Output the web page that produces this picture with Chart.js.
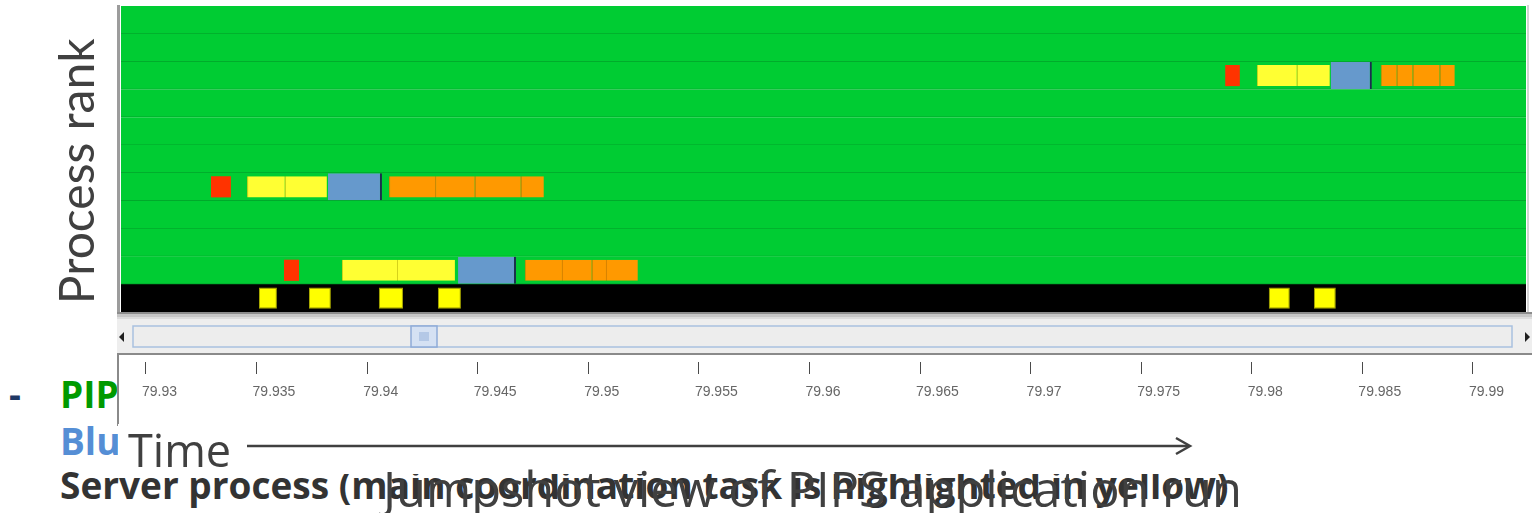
<!DOCTYPE html>
<html>
<head>
<meta charset="utf-8">
<title>Jumpshot view of PIPS application run</title>
<script src="https://cdn.jsdelivr.net/npm/chart.js@4/dist/chart.umd.min.js"></script>
<style>
    html, body { margin: 0; padding: 0; background: #fff; }
    body { width: 1532px; height: 513px; position: relative; overflow: hidden; font-family: "Open Sans", sans-serif; }
    .slide-line { position: absolute; white-space: nowrap; line-height: 1; font-weight: bold; }
    #chartBox { position: absolute; left: 0; top: 0; width: 1532px; height: 426px; z-index: 1; }
    #timeBox { position: absolute; left: 118px; top: 424px; width: 1132px; height: 50px; background: #fff; z-index: 2; }
    #timeLabel { position: absolute; left: 10px; top: 3px; font-size: 45px; line-height: 1; color: #404040; }
    #timeArrow { position: absolute; left: 0; top: 0; }
    #caption { position: absolute; left: 383px; top: 464px; font-size: 48.8px; line-height: 1; color: #404040; white-space: nowrap; z-index: 3; }
</style>
</head>
<body>

<!-- slide text that sits behind the jumpshot window -->
<div class="slide-line" style="left:9px; top:375px; font-size:37px; color:#1f3864;">-</div>
<div class="slide-line" style="left:60px; top:375px; font-size:37px; color:#009a00;">PIPS</div>
<div class="slide-line" style="left:60px; top:422px; font-size:37px; color:#558ed5;">Blue</div>
<div class="slide-line" style="left:60px; top:466px; font-size:37px; color:#333333;">Server process (main coordination task is highlighted in yellow)</div>

<div id="chartBox"><canvas id="trace"></canvas></div>

<div id="timeBox">
    <span id="timeLabel">Time</span>
    <svg id="timeArrow" width="1132" height="50">
        <line x1="129" y1="22" x2="1071" y2="22" stroke="#404040" stroke-width="2.5"/>
        <polyline points="1058,14 1072,22 1058,30" fill="none" stroke="#404040" stroke-width="2.5"/>
    </svg>
</div>

<div id="caption">Jumpshot view of PIPS application run</div>

<script>
// visible time window of the trace (seconds)
var viewStart = 79.92887;
var viewEnd = 79.99240;

// timeline rows, top to bottom; the last one is the server row
var rowLabels = ['0', '1', '2', '3', '4', '5', '6', '7', '8', '9', '10'];
var computeRows = ['0', '1', '2', '3', '4', '5', '6', '7', '8', '9'];
var serverRows = ['10'];

var tickValues = [79.93, 79.935, 79.94, 79.945, 79.95, 79.955, 79.96, 79.965, 79.97, 79.975, 79.98, 79.985, 79.99];
var tickLabels = ['79.93', '79.935', '79.94', '79.945', '79.95', '79.955', '79.96', '79.965', '79.97', '79.975', '79.98', '79.985', '79.99'];

// states as [row, start, end]
var redSpans = [
    ['2', 79.97880, 79.97946],
    ['6', 79.93294, 79.93384],
    ['9', 79.93624, 79.93692]
];

var yellowSpans = [
    ['2', 79.98023, 79.98204], ['2', 79.98204, 79.98353],
    ['6', 79.93457, 79.93628], ['6', 79.93628, 79.93818],
    ['9', 79.93886, 79.94135], ['9', 79.94135, 79.94397]
];

var blueSpans = [
    ['2', 79.98357, 79.98543],
    ['6', 79.93823, 79.94067],
    ['9', 79.94411, 79.94673]
];

var orangeSpans = [
    ['2', 79.98583, 79.98656], ['2', 79.98656, 79.98728], ['2', 79.98728, 79.98850], ['2', 79.98850, 79.98918],
    ['6', 79.94099, 79.94307], ['6', 79.94307, 79.94487], ['6', 79.94487, 79.94695], ['6', 79.94695, 79.94799],
    ['9', 79.94713, 79.94881], ['9', 79.94881, 79.95016], ['9', 79.95016, 79.95080], ['9', 79.95080, 79.95224]
];

var serverSpans = [
    ['10', 79.93511, 79.93592], ['10', 79.93737, 79.93836], ['10', 79.94053, 79.94162], ['10', 79.94320, 79.94424],
    ['10', 79.98077, 79.98172], ['10', 79.98281, 79.98380]
];

(function () {
    function spansToBars(spans) {
        return spans.map(function (s) { return { y: s[0], x: [s[1], s[2]] }; });
    }

    function rowsToBars(rows) {
        return rows.map(function (r) { return { y: r, x: [viewStart, viewEnd] }; });
    }

    function stateSet(label, data, fill, edge, width, thick, order) {
        return {
            label: label,
            data: data,
            backgroundColor: fill,
            borderColor: edge,
            borderWidth: width,
            borderSkipped: false,
            grouped: false,
            categoryPercentage: 1,
            barPercentage: thick,
            order: order
        };
    }

    // window chrome: frame, scrollbar strip and the time ruler panel
    var jumpshotFrame = {
        id: 'jumpshotFrame',
        beforeDraw: function (chart) {
            var ctx = chart.ctx;
            var area = chart.chartArea;
            var band = chart.scales.band;
            var left = area.left - 4;
            var right = chart.width;
            var w = right - left;
            var top = band.top;

            ctx.save();
            ctx.fillStyle = '#ffffff';
            ctx.fillRect(left, 0, w, chart.height);

            // canvas frame
            ctx.fillStyle = '#9c9c9c';
            ctx.fillRect(left, area.top - 1, 3, top - area.top + 6);
            ctx.fillStyle = '#d4d4d4';
            ctx.fillRect(area.right + 1, area.top - 1, 2, area.bottom - area.top + 2);

            // scrollbar strip
            ctx.fillStyle = '#eeeeee';
            ctx.fillRect(left, top, w, 41);
            ctx.fillStyle = '#8c8c8c';
            ctx.fillRect(left, top, w, 2);
            ctx.fillStyle = '#c6c6c6';
            ctx.fillRect(left, top + 2, w, 3);
            ctx.fillStyle = '#dcdcdc';
            ctx.fillRect(left, top + 5, w, 2);

            // track
            ctx.fillStyle = '#ededed';
            ctx.fillRect(left + 16, top + 14, w - 36, 21);
            ctx.strokeStyle = '#a9c1df';
            ctx.lineWidth = 1.5;
            ctx.strokeRect(left + 16, top + 14, w - 36, 21);

            // arrows
            ctx.fillStyle = '#202020';
            ctx.beginPath();
            ctx.moveTo(left + 2, top + 25);
            ctx.lineTo(left + 7, top + 20);
            ctx.lineTo(left + 7, top + 30);
            ctx.fill();
            ctx.beginPath();
            ctx.moveTo(right - 2, top + 25);
            ctx.lineTo(right - 7, top + 20);
            ctx.lineTo(right - 7, top + 30);
            ctx.fill();

            // thumb
            ctx.fillStyle = '#d5e1f3';
            ctx.fillRect(411, top + 14, 26, 21);
            ctx.strokeStyle = '#8eabd8';
            ctx.strokeRect(411, top + 14, 26, 21);
            ctx.fillStyle = '#b4c8e6';
            ctx.fillRect(419, top + 20, 10, 9);

            // ruler panel
            ctx.fillStyle = '#8a8a8a';
            ctx.fillRect(left, top + 41, w, 2);
            ctx.fillRect(left, top + 41, 2, chart.height - top - 41);
            ctx.restore();
        }
    };

    new Chart(document.getElementById('trace'), {
        type: 'bar',
        data: {
            labels: rowLabels,
            datasets: [
                stateSet('MPI_Send', spansToBars(redSpans), '#ff3300', '#e02800', 0, 0.76, 1),
                stateSet('Compute', spansToBars(yellowSpans), '#ffff33', '#d6d21a', { left: 1, right: 0, top: 0, bottom: 0 }, 0.76, 1),
                stateSet('MPI_Wait', spansToBars(blueSpans), '#6699cc', '#1c2f4f', { left: 0, right: 2, top: 0, bottom: 0 }, 0.97, 2),
                stateSet('MPI_Recv', spansToBars(orangeSpans), '#ff9900', '#d98400', { left: 1, right: 0, top: 0, bottom: 0 }, 0.76, 1),
                stateSet('Server task', spansToBars(serverSpans), '#ffff00', '#a8a800', 1, 0.76, 1),
                stateSet('Idle', rowsToBars(computeRows), '#00cc33', '#00a42b', { left: 0, right: 0, top: 0, bottom: 1 }, 1, 10),
                stateSet('Server', rowsToBars(serverRows), '#000000', '#000000', 0, 1, 10)
            ]
        },
        options: {
            indexAxis: 'y',
            responsive: true,
            maintainAspectRatio: false,
            animation: false,
            devicePixelRatio: 1,
            layout: { padding: { left: 0, right: 6, top: 6, bottom: 24 } },
            plugins: {
                legend: { display: false },
                tooltip: { enabled: false }
            },
            scales: {
                x: {
                    type: 'linear',
                    position: 'bottom',
                    weight: 1,
                    min: viewStart,
                    max: viewEnd,
                    bounds: 'data',
                    border: { display: false },
                    grid: { display: true, drawOnChartArea: false, tickLength: 12, tickColor: '#4a4a4a', tickWidth: 1 },
                    ticks: {
                        autoSkip: false,
                        maxRotation: 0,
                        align: 'start',
                        labelOffset: -4,
                        padding: 10,
                        color: '#666666',
                        font: { family: 'Liberation Sans', size: 14 },
                        callback: function (value, index) { return tickLabels[index]; }
                    },
                    afterBuildTicks: function (scale) {
                        scale.ticks = tickValues.map(function (v) { return { value: v }; });
                    },
                    afterFit: function (scale) { scale.height = 40; }
                },
                // empty strip under the timeline that holds the scrollbar
                band: {
                    type: 'linear',
                    axis: 'x',
                    position: 'bottom',
                    weight: 0,
                    min: viewStart,
                    max: viewEnd,
                    bounds: 'data',
                    border: { display: false },
                    grid: { display: false },
                    ticks: { display: false },
                    afterFit: function (scale) { scale.height = 50; }
                },
                y: {
                    type: 'category',
                    border: { display: false },
                    grid: { display: false },
                    ticks: { display: false },
                    title: {
                        display: true,
                        // two trailing spaces nudge the centred title down a little
                        text: 'Process rank\u00a0\u00a0',
                        color: '#404040',
                        font: { family: 'Lato', size: 48, weight: 'normal' },
                        padding: { top: 50, bottom: 0 }
                    },
                    afterFit: function (scale) { scale.width = 121; }
                }
            }
        },
        plugins: [jumpshotFrame]
    });
})();
</script>
</body>
</html>
